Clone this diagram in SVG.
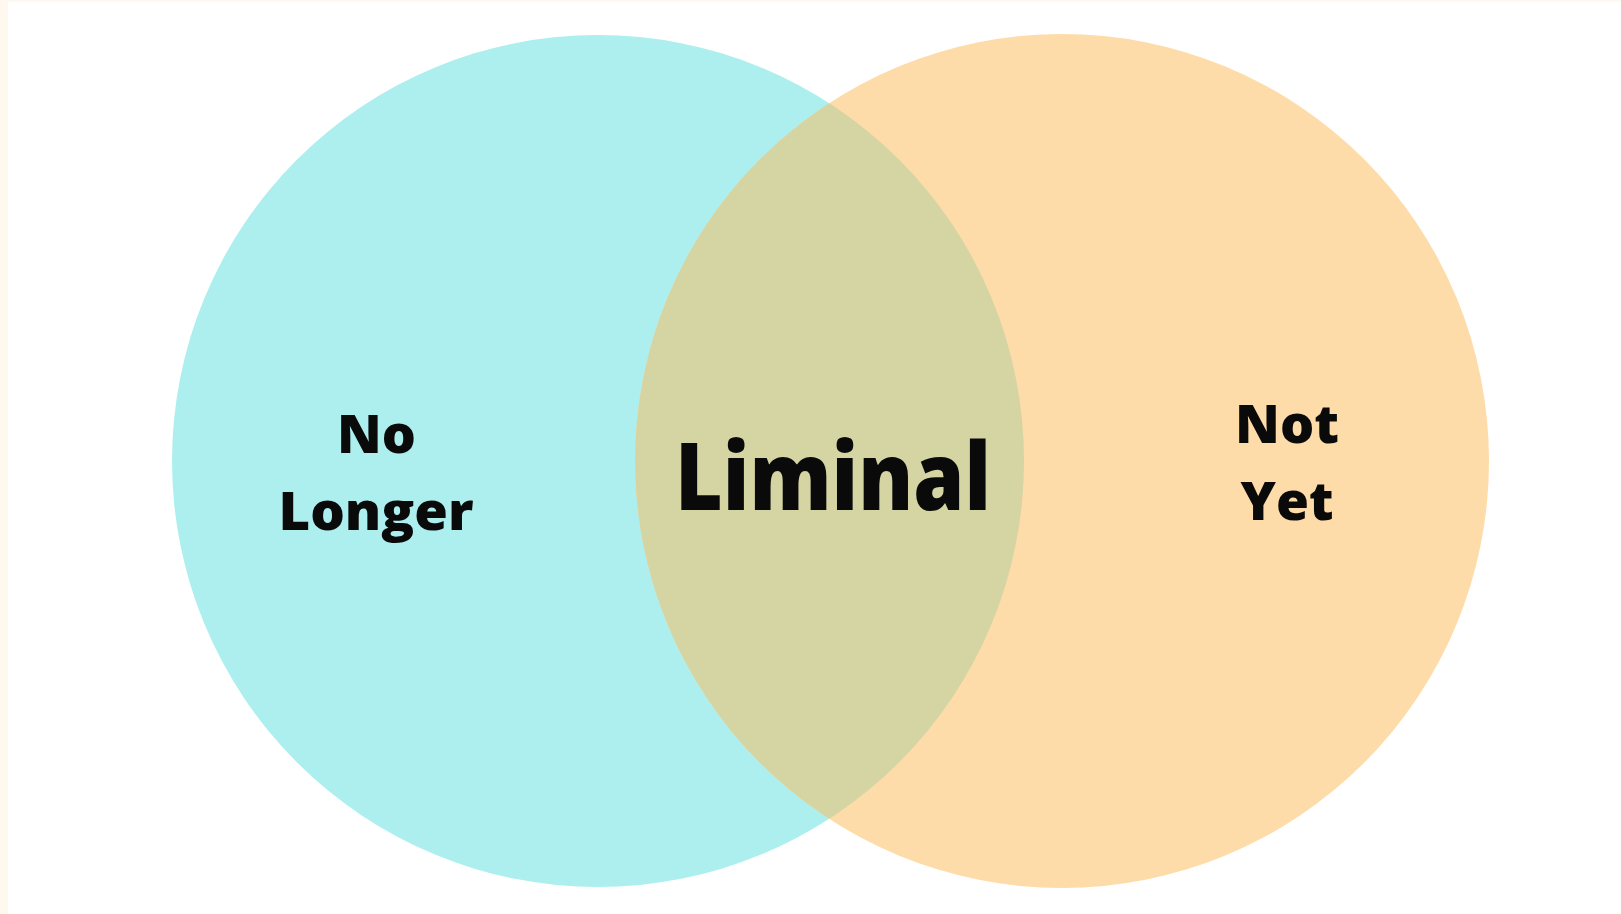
<svg xmlns="http://www.w3.org/2000/svg" width="1621" height="914" viewBox="0 0 1621 914">
  <style>
    .label { font-family: "Open Sans", "Noto Sans", "Liberation Sans", sans-serif; font-weight: 800; fill: #0a0a0a; text-anchor: middle; }
    .side { font-size: 53px; }
    .center { font-size: 94px; }
  </style>
  <defs>
    <clipPath id="clip-left">
      <circle cx="598" cy="461" r="426"/>
    </clipPath>
  </defs>
  <rect width="1621" height="914" fill="#ffffff"/>
  <!-- thin cream margin along the left and top edges -->
  <rect x="0" y="0" width="8" height="914" fill="#fff8ee"/>
  <rect x="0" y="0" width="1621" height="2" fill="#fff8ee"/>

  <g id="no-longer">
    <circle cx="598" cy="461" r="426" fill="#adefef"/>
  </g>
  <g id="not-yet">
    <circle cx="1062" cy="461" r="427" fill="#fddca9"/>
  </g>
  <g id="liminal">
    <circle cx="1062" cy="461" r="427" fill="#d5d4a3" clip-path="url(#clip-left)"/>
  </g>

  <g id="labels">
    <text class="label side" x="376.5" y="453" textLength="79" lengthAdjust="spacingAndGlyphs">No</text>
    <text class="label side" x="376" y="530" textLength="195" lengthAdjust="spacingAndGlyphs">Longer</text>
    <text class="label center" x="833" y="510" textLength="316" lengthAdjust="spacingAndGlyphs">Liminal</text>
    <text class="label side" x="1287" y="443" textLength="104" lengthAdjust="spacingAndGlyphs">Not</text>
    <text class="label side" x="1287" y="520" textLength="93" lengthAdjust="spacingAndGlyphs">Yet</text>
  </g>
  <g id="connectors"/>
</svg>
